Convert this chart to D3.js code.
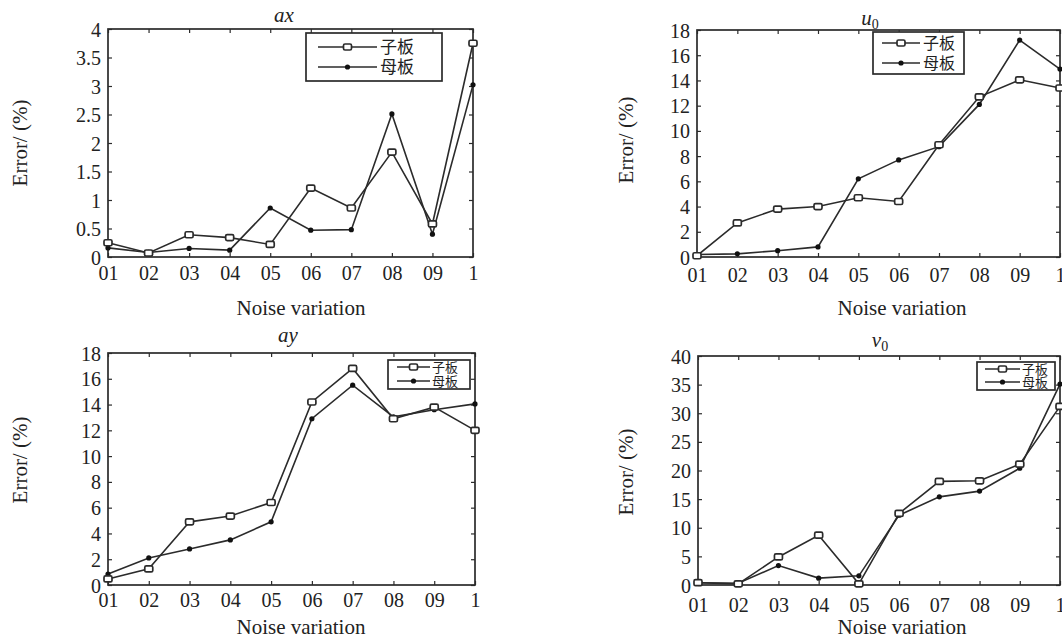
<!DOCTYPE html>
<html>
<head>
<meta charset="utf-8">
<script src="https://cdn.jsdelivr.net/npm/d3@7"></script>
<style>
  html, body { margin: 0; padding: 0; background: #fff; }
  svg { display: block; }
</style>
</head>
<body>
<svg id="chart" width="1062" height="638"></svg>
<script>
// ---------- data ----------
const categories = ["01", "02", "03", "04", "05", "06", "07", "08", "09", "1"];
const seriesNames = ["子板", "母板"];

const axChild  = [0.25, 0.07, 0.39, 0.34, 0.22, 1.21, 0.86, 1.84, 0.58, 3.75];
const axMother = [0.16, 0.08, 0.15, 0.12, 0.86, 0.47, 0.48, 2.51, 0.40, 3.02];

const u0Child  = [0.1, 2.7, 3.8, 4.0, 4.7, 4.4, 8.9, 12.7, 14.05, 13.4];
const u0Mother = [0.2, 0.25, 0.5, 0.8, 6.2, 7.7, 8.75, 12.1, 17.2, 14.9];

const ayChild  = [0.47, 1.25, 4.9, 5.35, 6.4, 14.2, 16.8, 12.9, 13.8, 12.0];
const ayMother = [0.85, 2.1, 2.8, 3.5, 4.9, 12.9, 15.5, 13.05, 13.6, 14.05];

const v0Child  = [0.4, 0.2, 4.9, 8.7, 0.2, 12.5, 18.1, 18.2, 21.1, 31.2];
const v0Mother = [0.4, 0.3, 3.4, 1.2, 1.6, 12.2, 15.4, 16.4, 20.4, 35.1];

const axTicks = [0, 0.5, 1, 1.5, 2, 2.5, 3, 3.5, 4];
const u0Ticks = [0, 2, 4, 6, 8, 10, 12, 14, 16, 18];
const ayTicks = [0, 2, 4, 6, 8, 10, 12, 14, 16, 18];
const v0Ticks = [0, 5, 10, 15, 20, 25, 30, 35, 40];

const yLabel = "Error/ (%)";
const xLabel = "Noise variation";

// ---------- layout ----------
const FONT = "'Liberation Serif', 'Times New Roman', 'Noto Sans CJK SC', serif";
const panels = [
  { title: ["a", "x", null], child: axChild, mother: axMother, ticks: axTicks,
    L: 108, R: 473, T: 29, B: 257, tx: 284, ty: 22, ylx: 20, yly: 143, xlx: 301, xly: 315, pad: 9,
    lg: { x: 306, y: 33, w: 136, h: 48, rows: [47, 67], l0: 318, l1: 377, tx: 380, fs: 17 } },
  { title: ["u", null, "0"], child: u0Child, mother: u0Mother, ticks: u0Ticks,
    L: 697, R: 1060, T: 30, B: 257, tx: 870, ty: 25, ylx: 626, yly: 140, xlx: 902, xly: 315, pad: 11,
    lg: { x: 873, y: 32, w: 91, h: 42, rows: [43, 63], l0: 882, l1: 920, tx: 923, fs: 16 } },
  { title: ["a", "y", null], child: ayChild, mother: ayMother, ticks: ayTicks,
    L: 108, R: 475, T: 353, B: 585, tx: 288, ty: 342, ylx: 20, yly: 460, xlx: 301, xly: 634, pad: 8,
    lg: { x: 388, y: 360, w: 82, h: 29, rows: [367, 381], l0: 397, l1: 430, tx: 432, fs: 13 } },
  { title: ["v", null, "0"], child: v0Child, mother: v0Mother, ticks: v0Ticks,
    L: 698, R: 1060, T: 356, B: 585, tx: 880, ty: 347, ylx: 626, yly: 472, xlx: 902, xly: 634, pad: 13,
    lg: { x: 977, y: 362, w: 78, h: 28, rows: [369, 382], l0: 985, l1: 1020, tx: 1022, fs: 13 } }
];

const svg = d3.select("#chart");
const ink = "#2b2b2b";

function drawSquare(g, x, y) {
  g.append("rect").attr("x", x - 4).attr("y", y - 3).attr("width", 8).attr("height", 6)
    .attr("rx", 1.5).attr("fill", "#fff").attr("stroke", ink).attr("stroke-width", 1.7);
}
function drawDot(g, x, y) {
  g.append("circle").attr("cx", x).attr("cy", y).attr("r", 2.6).attr("fill", "#111");
}

panels.forEach(p => {
  const x = d3.scalePoint().domain(categories).range([p.L, p.R]);
  const yMax = p.ticks[p.ticks.length - 1];
  const y = d3.scaleLinear().domain([0, yMax]).range([p.B, p.T]);
  const g = svg.append("g");

  // axes (inward ticks, MATLAB-style box)
  const gb = g.append("g").attr("transform", `translate(0,${p.B})`)
    .call(d3.axisBottom(x).tickSizeInner(-4).tickSizeOuter(0).tickPadding(p.pad));
  const gt = g.append("g").attr("transform", `translate(0,${p.T})`)
    .call(d3.axisTop(x).tickSizeInner(-4).tickSizeOuter(0).tickFormat(""));
  const gl = g.append("g").attr("transform", `translate(${p.L},0)`)
    .call(d3.axisLeft(y).tickValues(p.ticks).tickSizeInner(-4).tickSizeOuter(0).tickPadding(7).tickFormat(d => String(d)));
  const gr = g.append("g").attr("transform", `translate(${p.R},0)`)
    .call(d3.axisRight(y).tickValues(p.ticks).tickSizeInner(-4).tickSizeOuter(0).tickFormat(""));
  [gb, gt, gl, gr].forEach(a => {
    a.select(".domain").remove();
    a.attr("font-family", null).attr("font-size", null);
    a.selectAll(".tick line").attr("stroke", ink).attr("stroke-width", 1.2);
    a.selectAll(".tick text").style("font-family", FONT).style("font-size", "20px").attr("fill", "#222");
  });
  gl.selectAll(".tick text").attr("dy", "0.35em");

  g.append("rect").attr("x", p.L).attr("y", p.T).attr("width", p.R - p.L).attr("height", p.B - p.T)
    .attr("fill", "none").attr("stroke", ink).attr("stroke-width", 1.7);

  // lines
  const line = d3.line().x((d, i) => x(categories[i])).y(d => y(d));
  g.append("path").datum(p.mother).attr("d", line).attr("fill", "none")
    .attr("stroke", ink).attr("stroke-width", 1.6);
  g.append("path").datum(p.child).attr("d", line).attr("fill", "none")
    .attr("stroke", ink).attr("stroke-width", 1.6);
  p.mother.forEach((v, i) => drawDot(g, x(categories[i]), y(v)));
  p.child.forEach((v, i) => drawSquare(g, x(categories[i]), y(v)));

  // title
  const t = g.append("text").attr("x", p.tx).attr("y", p.ty).attr("text-anchor", "middle")
    .style("font-family", FONT).style("font-size", "21px").attr("fill", "#222");
  t.append("tspan").style("font-style", "italic").text(p.title[0] + (p.title[1] || ""));
  if (p.title[2]) {
    t.append("tspan").attr("dy", 4).style("font-size", "14px").text(p.title[2]);
  }

  // axis labels
  g.append("text").attr("transform", `translate(${p.ylx},${p.yly}) rotate(-90)`)
    .attr("text-anchor", "middle").attr("dy", "0.35em")
    .style("font-family", FONT).style("font-size", "21px").attr("fill", "#222").text(yLabel);
  g.append("text").attr("x", p.xlx).attr("y", p.xly).attr("text-anchor", "middle")
    .style("font-family", FONT).style("font-size", "21px").attr("fill", "#222").text(xLabel);

  // legend
  const lg = p.lg;
  const leg = g.append("g");
  leg.append("rect").attr("x", lg.x).attr("y", lg.y).attr("width", lg.w).attr("height", lg.h)
    .attr("fill", "#fff").attr("stroke", ink).attr("stroke-width", 1.7);
  seriesNames.forEach((name, i) => {
    const ry = lg.rows[i];
    leg.append("line").attr("x1", lg.l0).attr("x2", lg.l1).attr("y1", ry).attr("y2", ry)
      .attr("stroke", ink).attr("stroke-width", 1.5);
    const mx = (lg.l0 + lg.l1) / 2;
    if (i === 0) drawSquare(leg, mx, ry); else drawDot(leg, mx, ry);
    leg.append("text").attr("x", lg.tx).attr("y", ry).attr("dy", "0.36em")
      .style("font-family", FONT).style("font-size", lg.fs + "px").attr("fill", "#222").text(name);
  });
});
</script>
</body>
</html>
